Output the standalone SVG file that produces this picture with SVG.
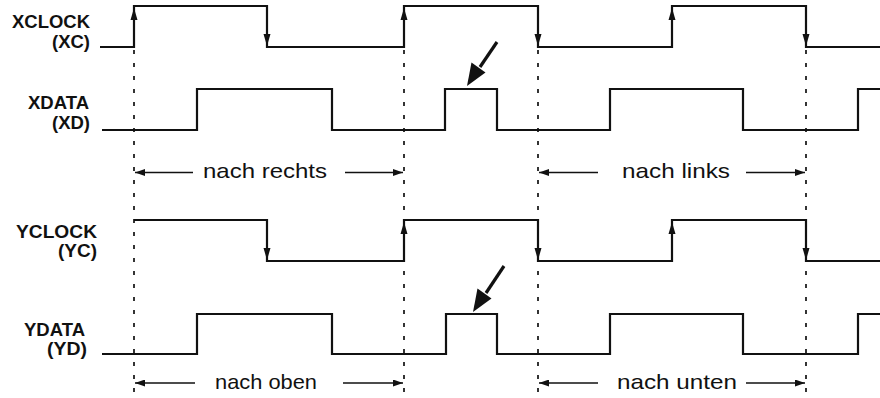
<svg xmlns="http://www.w3.org/2000/svg" width="880" height="398" viewBox="0 0 880 398">
<defs>
<style>
.sig{fill:none;stroke:#111;stroke-width:2.2;stroke-linejoin:miter}
.dot{fill:none;stroke:#111;stroke-width:1.7;stroke-dasharray:4 9}
.harr{fill:none;stroke:#111;stroke-width:1.5}
.ah{fill:#111}
.lbl{font-family:"Liberation Sans",Arial,sans-serif;font-weight:bold;font-size:18px;fill:#111;text-anchor:end}
.txt{font-family:"Liberation Sans",Arial,sans-serif;font-size:21px;fill:#111}
.ptr{stroke:#111;stroke-width:3.2;fill:none}
</style>
<marker id="sa" markerUnits="userSpaceOnUse" markerWidth="11" markerHeight="7" refX="10" refY="3.5" orient="auto">
<path d="M0,0 L10,3.5 L0,7 z" fill="#111"/>
</marker>
</defs>
<rect width="880" height="398" fill="#fff"/>

<g id="xclock">
<text class="lbl" x="90" y="28" textLength="78" lengthAdjust="spacingAndGlyphs">XCLOCK</text>
<text class="lbl" x="90" y="48" textLength="38" lengthAdjust="spacingAndGlyphs">(XC)</text>
<path class="sig" d="M100,47 H134 V6 H267 V47 H404 V6 H538 V47 H672 V6 H806 V47 H880"/>
<polygon class="ah" points="134,8 130.5,20 137.5,20"/>
<polygon class="ah" points="267,46 263.5,34 270.5,34"/>
<polygon class="ah" points="404,8 400.5,20 407.5,20"/>
<polygon class="ah" points="538,46 534.5,34 541.5,34"/>
<polygon class="ah" points="672,8 668.5,20 675.5,20"/>
<polygon class="ah" points="806,46 802.5,34 809.5,34"/>
</g>

<g id="xdata">
<text class="lbl" x="89" y="109" textLength="61" lengthAdjust="spacingAndGlyphs">XDATA</text>
<text class="lbl" x="90" y="128.5" textLength="38" lengthAdjust="spacingAndGlyphs">(XD)</text>
<path class="sig" d="M102,130 H197 V89 H332 V130 H445 V89 H497 V130 H610 V89 H743 V130 H858 V89 H880"/>
</g>

<g id="yclock">
<text class="lbl" x="97" y="238" textLength="81" lengthAdjust="spacingAndGlyphs">YCLOCK</text>
<text class="lbl" x="97" y="257" textLength="39" lengthAdjust="spacingAndGlyphs">(YC)</text>
<path class="sig" d="M134,220 H267 V261 H404 V220 H538 V261 H672 V220 H806 V261 H880"/>
<polygon class="ah" points="267,260 263.5,248 270.5,248"/>
<polygon class="ah" points="404,222 400.5,234 407.5,234"/>
<polygon class="ah" points="538,260 534.5,248 541.5,248"/>
<polygon class="ah" points="672,222 668.5,234 675.5,234"/>
<polygon class="ah" points="806,260 802.5,248 809.5,248"/>
</g>

<g id="ydata">
<text class="lbl" x="85" y="336" textLength="61" lengthAdjust="spacingAndGlyphs">YDATA</text>
<text class="lbl" x="87" y="355" textLength="40" lengthAdjust="spacingAndGlyphs">(YD)</text>
<path class="sig" d="M102,354 H197 V314 H332 V354 H446 V314 H497 V354 H610 V314 H743 V354 H858 V314 H880"/>
</g>

<g id="labels">
<text class="txt" x="203" y="178" textLength="124" lengthAdjust="spacingAndGlyphs">nach rechts</text>
<text class="txt" x="622" y="178" textLength="108" lengthAdjust="spacingAndGlyphs">nach links</text>
<text class="txt" x="215" y="389" textLength="102" lengthAdjust="spacingAndGlyphs">nach oben</text>
<text class="txt" x="617" y="389" textLength="120" lengthAdjust="spacingAndGlyphs">nach unten</text>
</g>

<g id="connectors">
<line class="dot" x1="134" y1="50" x2="134" y2="398"/>
<line class="dot" x1="404" y1="50" x2="404" y2="398"/>
<line class="dot" x1="538" y1="50" x2="538" y2="398"/>
<line class="dot" x1="806" y1="50" x2="806" y2="398"/>

<line class="harr" x1="193" y1="172.5" x2="135" y2="172.5" marker-end="url(#sa)"/>
<line class="harr" x1="345" y1="172.5" x2="403" y2="172.5" marker-end="url(#sa)"/>
<line class="harr" x1="598" y1="172.5" x2="539" y2="172.5" marker-end="url(#sa)"/>
<line class="harr" x1="746" y1="172.5" x2="805" y2="172.5" marker-end="url(#sa)"/>

<line class="harr" x1="195" y1="383" x2="135" y2="383" marker-end="url(#sa)"/>
<line class="harr" x1="343" y1="383" x2="403" y2="383" marker-end="url(#sa)"/>
<line class="harr" x1="598" y1="383" x2="539" y2="383" marker-end="url(#sa)"/>
<line class="harr" x1="746" y1="383" x2="805" y2="383" marker-end="url(#sa)"/>

<line class="ptr" x1="497" y1="42" x2="480" y2="67"/>
<polygon class="ah" points="467,86 485.5,72.5 471.5,62.5"/>
<line class="ptr" x1="504" y1="266" x2="486" y2="293"/>
<polygon class="ah" points="473,312 491.5,298.5 477.5,288.5"/>
</g>
</svg>
